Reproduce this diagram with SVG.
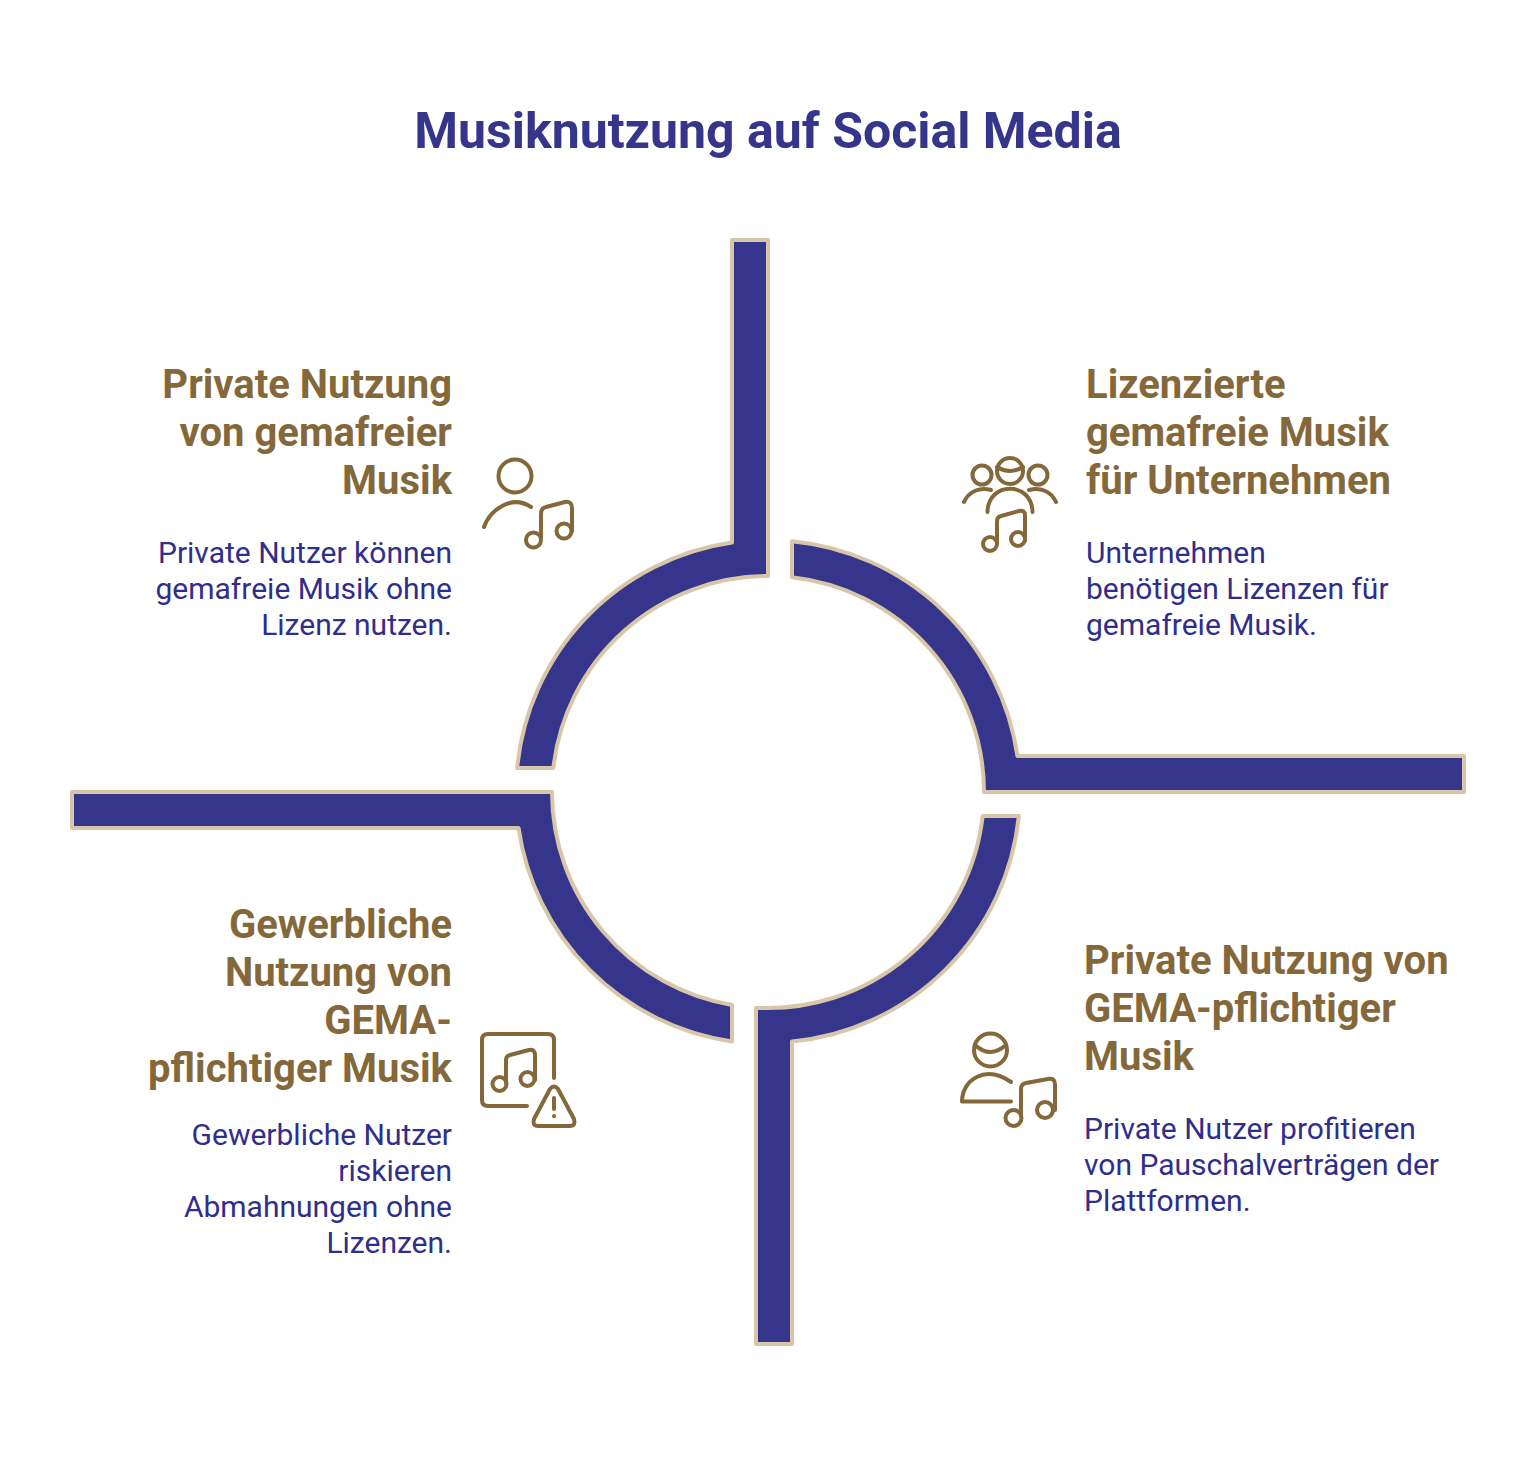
<svg xmlns="http://www.w3.org/2000/svg" width="1536" height="1464" viewBox="0 0 1536 1464">
<style>
text{font-family:Roboto,"Liberation Sans",sans-serif}
.t{font-size:50px;font-weight:700;fill:#34358b}
.h{font-size:40px;font-weight:700;fill:#85683a}
.b{font-size:30px;fill:#2f2e8c}
.e{text-anchor:end}
.seg{fill:#34358b;stroke:#d9c5a8;stroke-width:4;stroke-linejoin:round}
.i{fill:none;stroke:#85683a;stroke-width:4;stroke-linecap:round;stroke-linejoin:round}
</style>
<rect width="1536" height="1464" fill="#fff"/>
<text class="t" x="768" y="148" text-anchor="middle">Musiknutzung auf Social Media</text>
<g id="connectors">
<path class="seg" d="M768 240V576A216 216 0 0 0 553.34 768H517.15A252 252 0 0 1 732 542.58V240Z"/>
<path class="seg" d="M792 541.15V577.34A216 216 0 0 1 984 792H1464V756H1017.42A252 252 0 0 0 792 541.15Z"/>
<path class="seg" d="M1018.85 816H982.66A216 216 0 0 1 756 1007.67V1344H792V1041.42A252 252 0 0 0 1018.85 816Z"/>
<path class="seg" d="M72 792H552A216 216 0 0 0 732 1004.98V1041.42A252 252 0 0 1 518.58 828H72Z"/>
</g>
<g id="node-tl">
<text class="h e" x="452" y="398">Private Nutzung</text>
<text class="h e" x="452" y="446">von gemafreier</text>
<text class="h e" x="452" y="494">Musik</text>
<text class="b e" x="452" y="563">Private Nutzer können</text>
<text class="b e" x="452" y="599">gemafreie Musik ohne</text>
<text class="b e" x="452" y="635">Lizenz nutzen.</text>
<g class="i">
<circle cx="515" cy="476" r="16.5"/>
<path d="M484 527C490 510 512 494 531 507"/>
<circle cx="533.5" cy="540" r="7.5"/><circle cx="564" cy="531" r="7.5"/>
<path d="M541 538V514Q541 508 546 507L565 502Q572 501 572 508V531"/>
</g>
</g>
<g id="node-tr">
<text class="h" x="1086" y="398">Lizenzierte</text>
<text class="h" x="1086" y="446">gemafreie Musik</text>
<text class="h" x="1086" y="494">für Unternehmen</text>
<text class="b" x="1086" y="563">Unternehmen</text>
<text class="b" x="1086" y="599">benötigen Lizenzen für</text>
<text class="b" x="1086" y="635">gemafreie Musik.</text>
<g class="i">
<circle cx="1010" cy="471" r="13"/><path d="M997 467Q1010 475 1023 467"/>
<circle cx="982" cy="475" r="9.5"/><circle cx="1038" cy="475" r="9.5"/>
<path d="M964 502C969 491 980 487 991 490M1029 490C1040 487 1051 491 1056 502"/>
<path d="M987.5 512C988 481 1032 481 1032.5 512"/>
<circle cx="990" cy="544" r="7"/><circle cx="1018" cy="539" r="7"/>
<path d="M997 543V521Q997 517 1001 516L1019 511Q1025 510 1025 515V540"/>
</g>
</g>
<g id="node-bl">
<text class="h e" x="452" y="938">Gewerbliche</text>
<text class="h e" x="452" y="986">Nutzung von</text>
<text class="h e" x="452" y="1034">GEMA-</text>
<text class="h e" x="452" y="1082">pflichtiger Musik</text>
<text class="b e" x="452" y="1145">Gewerbliche Nutzer</text>
<text class="b e" x="452" y="1181">riskieren</text>
<text class="b e" x="452" y="1217">Abmahnungen ohne</text>
<text class="b e" x="452" y="1253">Lizenzen.</text>
<g class="i">
<path d="M554 1078V1040Q554 1034 548 1034H488Q482 1034 482 1040V1100Q482 1106 488 1106H527"/>
<circle cx="499.5" cy="1084" r="7"/><circle cx="527.5" cy="1079" r="7"/>
<path d="M506 1083V1060Q506 1056 510 1055L529 1050Q535 1049 535 1055V1080"/>
<path d="M550 1089Q554 1084 558 1089L574 1119Q576 1126 570 1126H538Q532 1126 534 1119Z"/>
<path d="M554 1098V1109M554 1116V1116.2"/>
</g>
</g>
<g id="node-br">
<text class="h" x="1084" y="974">Private Nutzung von</text>
<text class="h" x="1084" y="1022">GEMA-pflichtiger</text>
<text class="h" x="1084" y="1070">Musik</text>
<text class="b" x="1084" y="1139">Private Nutzer profitieren</text>
<text class="b" x="1084" y="1175">von Pauschalverträgen der</text>
<text class="b" x="1084" y="1211">Plattformen.</text>
<g class="i">
<circle cx="990.5" cy="1050" r="16.5"/><path d="M975 1045Q990 1059 1006 1045"/>
<path d="M962 1101.5H1011M962 1101.5C962 1080 985 1064 1011 1082"/>
<circle cx="1013.5" cy="1118" r="8"/><circle cx="1045" cy="1110" r="8"/>
<path d="M1021 1116V1089Q1021 1084 1026 1083L1048 1079Q1055 1078 1055 1084V1110"/>
</g>
</g>
</svg>
